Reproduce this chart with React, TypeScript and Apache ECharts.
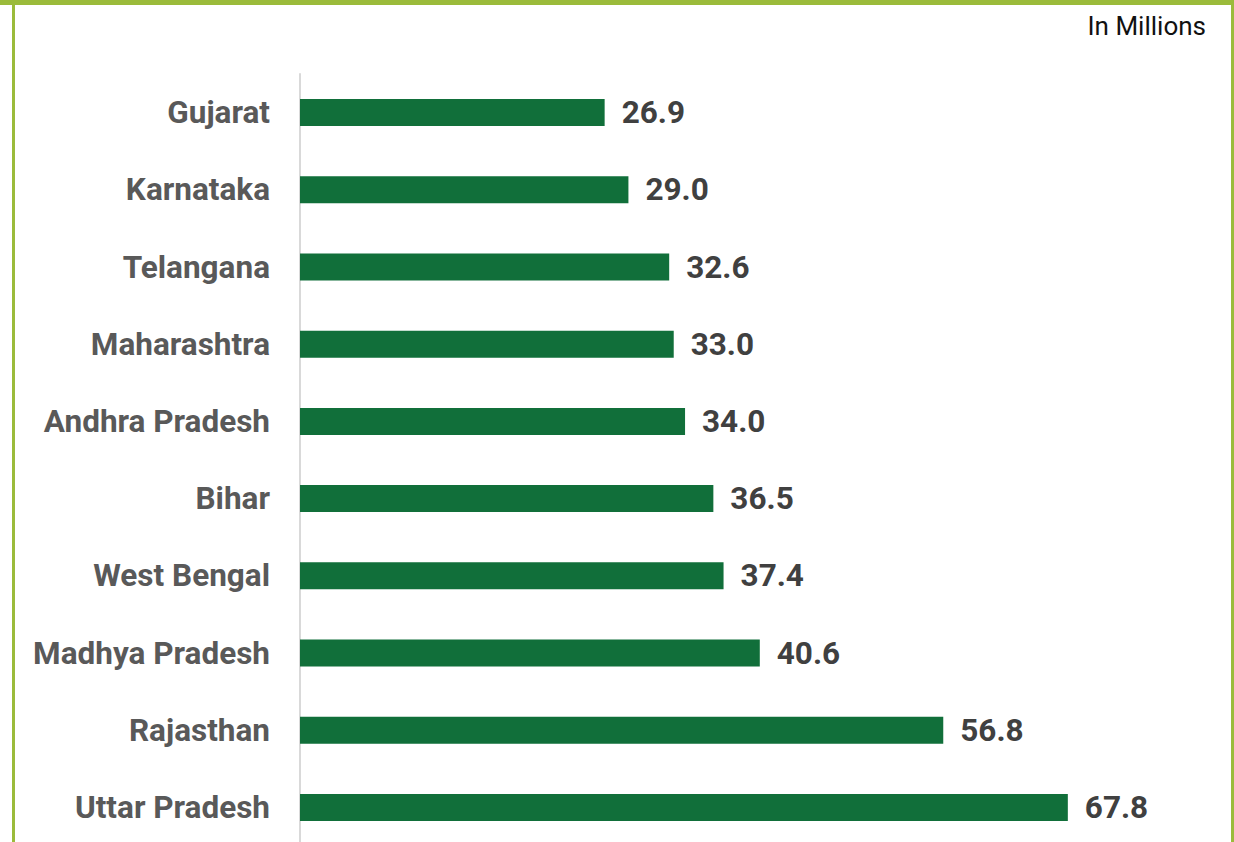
import React, { useEffect, useRef } from "react";
import * as echarts from "echarts";

const states = [
  "Gujarat",
  "Karnataka",
  "Telangana",
  "Maharashtra",
  "Andhra Pradesh",
  "Bihar",
  "West Bengal",
  "Madhya Pradesh",
  "Rajasthan",
  "Uttar Pradesh",
];
const values = [26.9, 29.0, 32.6, 33.0, 34.0, 36.5, 37.4, 40.6, 56.8, 67.8];
const unitLabel = "In Millions";

export default function App() {
  const ref = useRef<HTMLDivElement>(null);
  useEffect(() => {
    document.body.style.margin = "0";
    const chart = echarts.init(ref.current!, undefined, { renderer: "svg" });
    chart.setOption({
      animation: false,
      backgroundColor: "#ffffff",
      grid: { left: 300, top: 74, width: 906, height: 772, containLabel: false },
      xAxis: {
        type: "value",
        min: 0,
        max: 80,
        show: false,
      },
      yAxis: {
        type: "category",
        data: states,
        inverse: true,
        axisLine: { show: true, lineStyle: { color: "#d9d9d9", width: 2 } },
        axisTick: { show: false },
        axisLabel: {
          margin: 30,
          fontFamily: "Roboto",
          fontWeight: "bold",
          fontSize: 31.5,
          color: "#595959",
        },
      },
      series: [
        {
          type: "bar",
          data: values,
          barWidth: 27,
          itemStyle: { color: "#116f3a" },
          label: {
            show: true,
            position: "right",
            distance: 17,
            formatter: (p: any) => p.value.toFixed(1),
            fontFamily: "Roboto",
            fontWeight: "bold",
            fontSize: 31.5,
            color: "#404040",
          },
        },
      ],
      graphic: [
        { type: "rect", shape: { x: 0, y: 0, width: 1234, height: 5 }, style: { fill: "#9bbb3b" } },
        { type: "rect", shape: { x: 12, y: 0, width: 3, height: 850 }, style: { fill: "#9bbb3b" } },
        { type: "rect", shape: { x: 1231, y: 0, width: 3, height: 850 }, style: { fill: "#9bbb3b" } },
        {
          type: "text",
          right: 28,
          top: 13,
          style: {
            text: unitLabel,
            fontFamily: "Roboto",
            fontSize: 26,
            fill: "#111111",
          },
        },
      ],
    });
    return () => chart.dispose();
  }, []);
  return (
    <div
      ref={ref}
      style={{ position: "fixed", left: 0, top: 0, width: 1234, height: 850 }}
    />
  );
}
